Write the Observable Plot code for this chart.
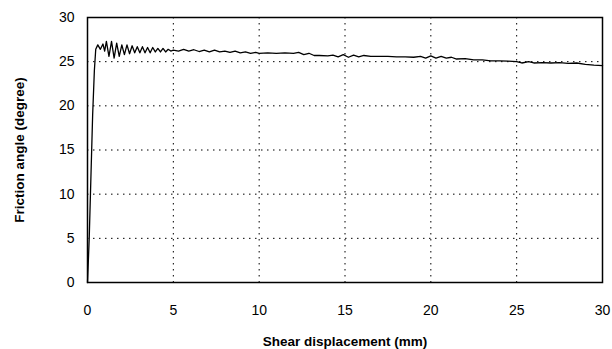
<!DOCTYPE html>
<html>
<head>
<meta charset="utf-8">
<script src="https://cdn.jsdelivr.net/npm/d3@7"></script>
<script src="https://cdn.jsdelivr.net/npm/@observablehq/plot@0.6"></script>
<style>
  html, body { margin: 0; padding: 0; background: #fff; }
  #chart svg { display: block; }
</style>
</head>
<body>
<div id="chart"></div>
<script>
// Shear displacement (mm)
const displacement = [
  0, 0.1, 0.2, 0.3, 0.4, 0.48, 0.6, 0.75, 0.9, 1.0, 1.1, 1.25, 1.4, 1.55, 1.7, 1.85,
  2.0, 2.15, 2.3, 2.45, 2.6, 2.75, 2.9, 3.05, 3.2, 3.35, 3.5, 3.65, 3.8, 3.95, 4.1,
  4.25, 4.4, 4.55, 4.7, 4.85, 5.0, 5.3, 5.6, 5.9, 6.2, 6.5, 6.8, 7.1, 7.4, 7.7, 8.0,
  8.3, 8.6, 8.9, 9.2, 9.5, 9.8, 10, 10.5, 11, 11.5, 12, 12.3, 12.6, 12.9, 13.2, 13.5,
  14, 14.3, 14.6, 14.9, 15.2, 15.5, 15.8, 16.1, 16.5, 17, 17.5, 18, 18.5, 19, 19.4,
  19.7, 20, 20.3, 20.6, 20.9, 21.2, 21.5, 22, 22.5, 23, 23.5, 24, 24.5, 25, 25.3,
  25.7, 26, 26.5, 27, 27.5, 28, 28.5, 29, 29.5, 30
];
// Friction angle (degree)
const frictionAngle = [
  0, 5, 12, 19, 24, 26.4, 26.9, 26.4, 27.0, 26.2, 27.3, 25.6, 27.3, 25.4, 27.1, 25.6,
  26.9, 25.8, 26.9, 25.9, 26.8, 26.0, 26.7, 26.0, 26.7, 26.0, 26.6, 26.0, 26.6, 26.1, 26.5,
  26.1, 26.5, 26.1, 26.4, 26.2, 26.3, 26.2, 26.4, 26.2, 26.35, 26.15, 26.3, 26.1, 26.3, 26.1, 26.2,
  26.05, 26.2, 26.0, 26.1, 25.95, 26.05, 25.95, 26.0, 25.95, 26.0, 25.95, 26.05, 25.8, 25.95, 25.7, 25.7,
  25.65, 25.75, 25.55, 25.8, 25.5, 25.75, 25.55, 25.7, 25.6, 25.6, 25.6, 25.55, 25.55, 25.5, 25.6,
  25.4, 25.65, 25.4, 25.6, 25.4, 25.5, 25.3, 25.35, 25.2, 25.2, 25.1, 25.1, 25.05, 25.0, 24.85,
  25.0, 24.85, 24.9, 24.85, 24.9, 24.8, 24.85, 24.7, 24.6, 24.55
];
const xTicks = [0, 5, 10, 15, 20, 25, 30];
const yTicks = [0, 5, 10, 15, 20, 25, 30];
const xGrid = [5, 10, 15, 20, 25];
const yGrid = [5, 10, 15, 20, 25];
const xLabel = "Shear displacement (mm)";
const yLabel = "Friction angle (degree)";

const data = displacement.map((d, i) => ({x: d, y: frictionAngle[i]}));

const chart = Plot.plot({
  width: 612,
  height: 349,
  marginLeft: 87,
  marginRight: 10,
  marginTop: 17,
  marginBottom: 67,
  style: {fontFamily: "'Liberation Sans', Arial, Helvetica, sans-serif", fontSize: "14px", color: "#000", background: "#fff"},
  x: {domain: [0, 30]},
  y: {domain: [0, 30]},
  marks: [
    Plot.ruleX(xGrid, {stroke: "#000", strokeWidth: 1, strokeDasharray: "1.5,4.5"}),
    Plot.ruleY(yGrid, {stroke: "#000", strokeWidth: 1, strokeDasharray: "1.5,4.5"}),
    Plot.axisX({ticks: xTicks, tickSize: 0, tickPadding: 23, label: null}),
    Plot.axisY({ticks: yTicks, tickSize: 0, tickPadding: 13, label: null}),
    Plot.text([xLabel], {frameAnchor: "bottom", dy: 63, text: d => d, fontWeight: "bold", fontSize: 13.5}),
    Plot.text([yLabel], {frameAnchor: "left", dx: -68, rotate: -90, textAnchor: "middle", text: d => d, fontWeight: "bold", fontSize: 13.5}),
    Plot.frame({stroke: "#000", strokeWidth: 1.5}),
    Plot.line(data, {x: "x", y: "y", stroke: "#000", strokeWidth: 1.3, curve: "linear"})
  ]
});
document.getElementById("chart").appendChild(chart);
</script>
</body>
</html>
